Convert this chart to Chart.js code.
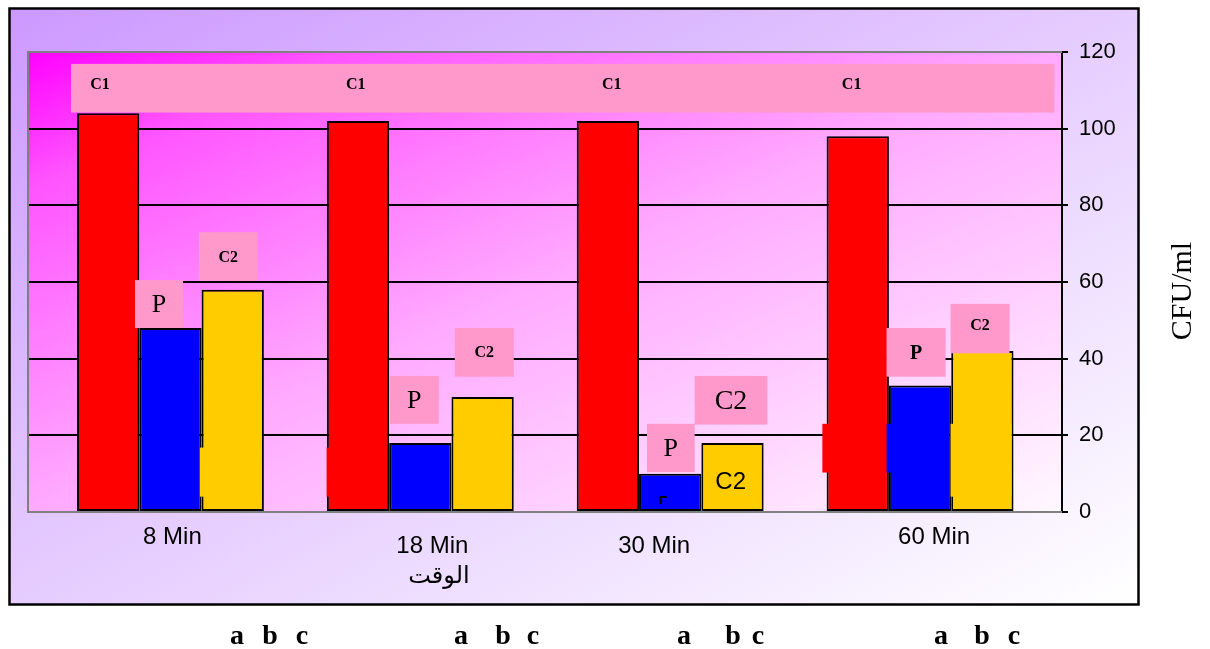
<!DOCTYPE html>
<html>
<head>
<meta charset="utf-8">
<title>CFU/ml</title>
<script src="https://cdn.jsdelivr.net/npm/chart.js@4.4.1/dist/chart.umd.min.js"></script>
<style>
  html, body { margin: 0; padding: 0; background: #ffffff; }
  canvas { display: block; }
</style>
</head>
<body>
<canvas id="c" width="1210" height="649"></canvas>
<script>
// Sampling times and colony counts (CFU/ml) for the three samples
const categories = ['8 Min', '18 Min', '30 Min', '60 Min'];
const seriesNames = ['C1', 'P', 'C2'];
const valuesC1 = [104, 102, 102, 98];
const valuesP = [48, 18, 10, 33];
const valuesC2 = [58, 30, 18, 42];
const yTicks = [0, 20, 40, 60, 80, 100, 120];
const xAxisTitle = 'الوقت';
const yAxisTitle = 'CFU/ml';
const groupLetters = ['a', 'b', 'c'];

const SERIF = "'Liberation Serif', 'Times New Roman', serif";
const SANS = "'Liberation Sans', Arial, 'DejaVu Sans', sans-serif";
const barColors = ['#ff0000', '#0000ff', '#ffcc00'];
const notePink = '#ff99cc';

// Label placement (x in category units, y in CFU/ml)
const noteBoxes = [
  { x0: -0.398, x1: 3.538, y0: 104.2, y1: 116.9 },
  { x0: 0.114, x1: 0.349, y0: 60.3, y1: 73.0, text: 'C2', font: 'bold 16px ' + SERIF },
  { x0: -0.142, x1: 0.050, y0: 48.0, y1: 60.5, text: 'P', font: '26px ' + SERIF },
  { x0: 0.878, x1: 1.074, y0: 23.0, y1: 35.5, text: 'P', font: '26px ' + SERIF },
  { x0: 1.138, x1: 1.374, y0: 35.3, y1: 48.0, text: 'C2', font: 'bold 16px ' + SERIF },
  { x0: 1.907, x1: 2.098, y0: 10.4, y1: 23.0, text: 'P', font: '26px ' + SERIF },
  { x0: 2.098, x1: 2.389, y0: 22.8, y1: 35.5, text: 'C2', font: '28px ' + SERIF },
  { x0: 2.866, x1: 3.102, y0: 35.3, y1: 48.0, text: 'P', font: 'bold 20px ' + SERIF },
  { x0: 3.122, x1: 3.358, y0: 41.4, y1: 54.3, text: 'C2', font: 'bold 16px ' + SERIF, dy: -4 }
];
const freeNotes = [
  { x: -0.282, y: 111.4, text: 'C1', font: 'bold 16px ' + SERIF },
  { x: 0.742, y: 111.4, text: 'C1', font: 'bold 16px ' + SERIF },
  { x: 1.766, y: 111.4, text: 'C1', font: 'bold 16px ' + SERIF },
  { x: 2.726, y: 111.4, text: 'C1', font: 'bold 16px ' + SERIF },
  { x: 2.242, y: 7.8, text: 'C2', font: '24px ' + SANS }
];
// Fill patches laid over the bars (series index gives the colour)
const barPatches = [
  { s: 2, x0: 0.118, x1: 0.366, y0: 4.0, y1: 16.8 },
  { s: 0, x0: 0.625, x1: 0.866, y0: 4.0, y1: 16.8 },
  { s: 0, x0: 2.609, x1: 2.870, y0: 10.3, y1: 23.0 },
  { s: 1, x0: 2.866, x1: 3.114, y0: 10.3, y1: 23.0 },
  { s: 2, x0: 3.122, x1: 3.366, y0: 4.0, y1: 23.0 }
];
// Category label nudges in px
const catLabelDx = [2, 12, -16, 14];
const catLabelY = [537, 546, 546, 537];
// Letter positions under the frame (px)
const letterX = [[237, 270, 302], [461, 503, 533], [684, 733, 758], [941, 982, 1014]];

function diagGradient(ctx, x, y, w, h, stops) {
  const k = 2 * w * h / (w * w + h * h);
  const g = ctx.createLinearGradient(x, y, x + k * h, y + k * w);
  stops.forEach(([t, c]) => g.addColorStop(t, c));
  return g;
}

const decor = {
  id: 'decor',
  beforeDraw(chart) {
    const { ctx, chartArea: a } = chart;
    ctx.save();
    ctx.fillStyle = '#ffffff';
    ctx.fillRect(0, 0, chart.width, chart.height);
    // outer frame
    const fx = 9, fy = 8, fw = 1129, fh = 596;
    ctx.fillStyle = diagGradient(ctx, fx, fy, fw, fh, [[0, '#cc99ff'], [1, '#ffffff']]);
    ctx.fillRect(fx, fy, fw, fh);
    ctx.lineWidth = 2.5;
    ctx.strokeStyle = '#000000';
    ctx.strokeRect(fx + 0.5, fy + 0.5, fw, fh);
    // plot area
    ctx.fillStyle = diagGradient(ctx, a.left, a.top, a.right - a.left, a.bottom - a.top,
      [[0, '#ff00ff'], [0.15, '#ff55ff'], [0.5, '#ffaaff'], [1, '#fff8ff']]);
    ctx.fillRect(a.left, a.top, a.right - a.left, a.bottom - a.top);
    ctx.restore();
  },
  beforeDatasetsDraw(chart) {
    const { ctx, chartArea: a } = chart;
    ctx.save();
    ctx.strokeStyle = '#808080';
    ctx.lineWidth = 2;
    ctx.beginPath();
    ctx.moveTo(a.right, a.top);
    ctx.lineTo(a.left, a.top);
    ctx.lineTo(a.left, a.bottom);
    ctx.lineTo(a.right, a.bottom);
    ctx.stroke();
    ctx.restore();
  },
  afterDatasetsDraw(chart) {
    const { ctx } = chart;
    const xs = chart.scales.x, ys = chart.scales.y;
    const X = v => xs.getPixelForValue(v), Y = v => ys.getPixelForValue(v);
    ctx.save();
    barPatches.forEach(p => {
      ctx.fillStyle = barColors[p.s];
      ctx.fillRect(X(p.x0), Y(p.y1), X(p.x1) - X(p.x0), Y(p.y0) - Y(p.y1));
    });
    // small corner tick inside the 30 Min P bar
    ctx.strokeStyle = '#000';
    ctx.lineWidth = 2;
    ctx.beginPath();
    const cx = X(1.962), cy = Y(3.9);
    ctx.moveTo(cx + 6, cy);
    ctx.lineTo(cx, cy);
    ctx.lineTo(cx, cy + 7);
    ctx.stroke();

    ctx.textAlign = 'center';
    ctx.textBaseline = 'middle';
    noteBoxes.forEach(b => {
      const x0 = X(b.x0), x1 = X(b.x1), y0 = Y(b.y1), y1 = Y(b.y0);
      ctx.fillStyle = notePink;
      ctx.fillRect(x0, y0, x1 - x0, y1 - y0);
      if (b.text) {
        ctx.fillStyle = '#000';
        ctx.font = b.font;
        ctx.fillText(b.text, (x0 + x1) / 2, (y0 + y1) / 2 + 1 + (b.dy || 0));
      }
    });
    freeNotes.forEach(n => {
      ctx.fillStyle = '#000';
      ctx.font = n.font;
      ctx.fillText(n.text, X(n.x), Y(n.y));
    });
    ctx.restore();
  },
  afterDraw(chart) {
    const { ctx } = chart;
    const xs = chart.scales.x;
    ctx.save();
    ctx.fillStyle = '#000';
    ctx.textAlign = 'center';
    ctx.textBaseline = 'middle';
    ctx.font = '24px ' + SANS;
    categories.forEach((c, i) => {
      ctx.fillText(c, xs.getPixelForValue(i) + catLabelDx[i], catLabelY[i]);
    });
    ctx.fillText(xAxisTitle, 439, 576);
    // y axis title
    ctx.save();
    ctx.translate(1183, 291);
    ctx.rotate(-Math.PI / 2);
    ctx.font = '30px ' + SERIF;
    ctx.fillText(yAxisTitle, 0, 0);
    ctx.restore();
    // letters under each group
    ctx.font = 'bold 28px ' + SERIF;
    ctx.textBaseline = 'alphabetic';
    letterX.forEach(row => row.forEach((x, j) => ctx.fillText(groupLetters[j], x, 644)));
    ctx.restore();
  }
};

const seriesValues = [valuesC1, valuesP, valuesC2];
const datasets = seriesNames.map((name, s) => ({
  label: name,
  data: categories.map((_, i) => ({ x: i, y: seriesValues[s][i] })),
  backgroundColor: barColors[s],
  borderColor: '#000000',
  borderWidth: 2,
  borderSkipped: false,
  categoryPercentage: 0.748,
  barPercentage: 1
}));

new Chart(document.getElementById('c'), {
  type: 'bar',
  data: { datasets },
  plugins: [decor],
  options: {
    responsive: false,
    animation: false,
    devicePixelRatio: 1,
    layout: { padding: { left: 28, top: 52, right: 0, bottom: 0 } },
    plugins: { legend: { display: false }, tooltip: { enabled: false } },
    scales: {
      x: {
        type: 'linear',
        offset: false,
        min: -0.57,
        max: 3.568,
        afterBuildTicks(s) { s.ticks = categories.map((_, i) => ({ value: i })); },
        grid: { display: false, drawTicks: false },
        border: { display: false },
        ticks: { display: false },
        afterFit(s) { s.height = 137; }
      },
      y: {
        position: 'right',
        min: 0,
        max: 120,
        afterBuildTicks(s) { s.ticks = yTicks.map(v => ({ value: v })); },
        ticks: { color: '#000', font: { family: SANS, size: 22 }, padding: 11 },
        grid: {
          color: c => (c.tick && (c.tick.value === 0 || c.tick.value === 120)) ? 'rgba(0,0,0,0)' : '#000',
          lineWidth: 2,
          tickLength: 6,
          tickColor: '#000',
          tickWidth: 2
        },
        border: { display: true, color: '#000', width: 2 },
        afterFit(s) { s.width = 148; }
      }
    }
  }
});
</script>
</body>
</html>
